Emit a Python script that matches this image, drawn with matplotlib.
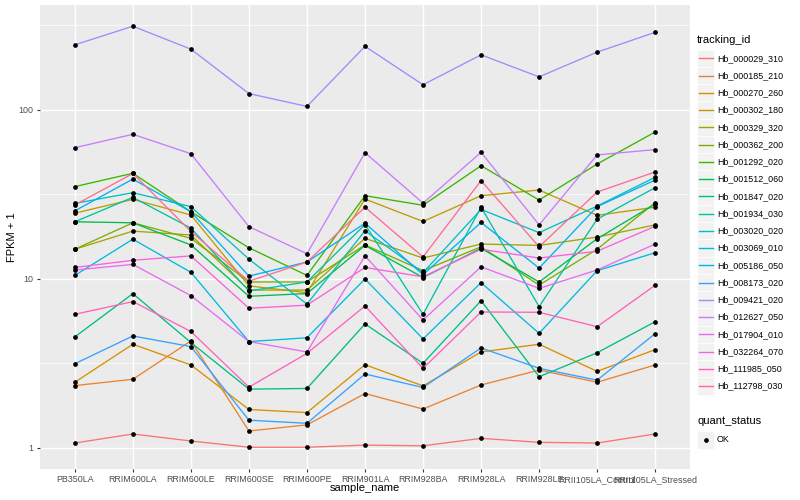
import numpy as np
import matplotlib
matplotlib.use('Agg')
import matplotlib.pyplot as plt
from matplotlib.patches import Rectangle
from matplotlib.lines import Line2D

plt.rcParams['font.family'] = ['Liberation Sans', 'DejaVu Sans']

samples = ['PB350LA', 'RRIM600LA', 'RRIM600LE', 'RRIM600SE', 'RRIM600PE', 'RRIM901LA',
           'RRIM928BA', 'RRIM928LA', 'RRIM928LE', 'RRII105LA_Control', 'RRII105LA_Stressed']

tracking_ids = ['Hb_000029_310', 'Hb_000185_210', 'Hb_000270_260', 'Hb_000302_180',
                'Hb_000329_320', 'Hb_000362_200', 'Hb_001292_020', 'Hb_001512_060',
                'Hb_001847_020', 'Hb_001934_030', 'Hb_003020_020', 'Hb_003069_010',
                'Hb_005186_050', 'Hb_008173_020', 'Hb_009421_020', 'Hb_012627_050',
                'Hb_017904_010', 'Hb_032264_070', 'Hb_111985_050', 'Hb_112798_030']

# FPKM + 1 per sample
hb_000029_310 = [1.07, 1.21, 1.10, 1.01, 1.01, 1.04, 1.03, 1.14, 1.08, 1.07, 1.21]
hb_000185_210 = [2.34, 2.55, 4.30, 1.26, 1.37, 2.10, 1.70, 2.36, 2.89, 2.45, 3.10]
hb_000270_260 = [2.45, 4.11, 3.10, 1.69, 1.62, 3.11, 2.33, 3.70, 4.11, 2.84, 3.82]
hb_000302_180 = [24.5, 29.6, 23.9, 9.1, 8.3, 29.7, 21.9, 31.1, 33.6, 23.8, 26.6]
hb_000329_320 = [15.0, 19.2, 18.2, 8.6, 8.6, 17.4, 13.3, 16.1, 15.8, 17.7, 20.9]
hb_000362_200 = [15.0, 21.5, 17.4, 9.6, 9.6, 15.9, 11.2, 15.5, 9.2, 15.0, 28.3]
hb_001292_020 = [35.2, 42.2, 25.0, 15.3, 10.5, 31.1, 27.3, 46.8, 29.3, 47.9, 74.1]
hb_001512_060 = [21.8, 21.5, 15.9, 7.9, 8.2, 15.8, 10.2, 15.2, 9.6, 17.3, 27.8]
hb_001847_020 = [4.54, 8.19, 4.21, 2.23, 2.25, 5.42, 3.17, 7.44, 2.64, 3.66, 5.59]
hb_001934_030 = [21.8, 30.4, 20.0, 8.5, 9.6, 21.0, 6.18, 26.6, 6.86, 22.6, 34.7]
hb_003020_020 = [28.0, 32.4, 26.8, 13.1, 7.1, 19.3, 10.9, 25.8, 18.8, 27.0, 40.0]
hb_003069_010 = [10.5, 17.2, 10.95, 4.26, 4.49, 10.0, 4.42, 9.51, 4.77, 11.2, 14.3]
hb_005186_050 = [25.3, 39.0, 25.0, 10.4, 12.6, 21.4, 10.6, 21.6, 11.6, 26.8, 38.5]
hb_008173_020 = [3.15, 4.60, 3.98, 1.46, 1.40, 2.74, 2.28, 3.91, 2.96, 2.52, 4.75]
hb_009421_020 = [243, 313, 229, 125, 105, 238, 141, 212, 157, 220, 288]
hb_012627_050 = [59.8, 71.8, 55.1, 20.4, 14.1, 55.9, 28.1, 56.2, 20.9, 54.2, 58.3]
hb_017904_010 = [11.3, 12.2, 7.97, 4.26, 3.70, 13.7, 5.72, 11.8, 8.8, 11.3, 16.1]
hb_032264_070 = [11.7, 12.9, 13.7, 6.71, 7.0, 11.7, 10.3, 15.0, 13.3, 14.6, 20.5]
hb_111985_050 = [6.18, 7.35, 4.89, 2.29, 3.63, 6.92, 2.96, 6.38, 6.35, 5.22, 9.18]
hb_112798_030 = [27.4, 42.1, 19.1, 9.7, 12.6, 26.6, 13.5, 38.2, 15.5, 32.7, 43.0]

series = [hb_000029_310, hb_000185_210, hb_000270_260, hb_000302_180, hb_000329_320,
          hb_000362_200, hb_001292_020, hb_001512_060, hb_001847_020, hb_001934_030,
          hb_003020_020, hb_003069_010, hb_005186_050, hb_008173_020, hb_009421_020,
          hb_012627_050, hb_017904_010, hb_032264_070, hb_111985_050, hb_112798_030]

# ggplot hue palette, 20 levels
colours = ['#F8766D', '#EA8331', '#D89000', '#C09B00', '#A3A500', '#7CAE00', '#39B600',
           '#00BB4E', '#00BF7D', '#00C1A3', '#00BFC4', '#00BAE0', '#00B0F6', '#35A2FF',
           '#9590FF', '#C77CFF', '#E76BF3', '#FA62DB', '#FF62BC', '#FF6C91']

W, H = 800, 500
fig = plt.figure(figsize=(W / 100, H / 100), dpi=100)
ax = fig.add_axes([40 / W, 1 - 469 / H, 650 / W, 464 / H])
ax.set_facecolor('#EBEBEB')

x = np.arange(len(samples))
ax.set_yscale('log')
ax.set_xlim(-0.6, len(samples) - 0.4)
ax.set_ylim(0.751, 418)

# grid
for m in [10 ** 0.5, 10 ** 1.5, 10 ** 2.5]:
    ax.axhline(m, color='white', lw=0.5, zorder=1)
for m in [1, 10, 100]:
    ax.axhline(m, color='white', lw=1.0, zorder=1)
for xi in x:
    ax.axvline(xi, color='white', lw=1.0, zorder=1)

for vals, col in zip(series, colours):
    ax.plot(x, vals, color=col, lw=0.95, zorder=3)
for vals in series:
    ax.plot(x, vals, 'o', color='black', ms=2.4, zorder=4)

for s in ax.spines.values():
    s.set_visible(False)
ax.set_xticks(x)
ax.set_xticklabels(samples)
ax.set_yticks([1, 10, 100])
ax.set_yticklabels(['1', '10', '100'])
ax.minorticks_off()
ax.tick_params(axis='both', length=2.5, width=0.8, color='#333333',
               labelcolor='#4D4D4D', labelsize=6.4, pad=2)

fig.text(365 / W, 1 - 488 / H, 'sample_name', ha='center', va='center', fontsize=8)
fig.text(12 / W, 1 - 237 / H, 'FPKM + 1', ha='center', va='center', fontsize=8,
         rotation=90)

# legend: tracking_id
fig.text(697 / W, 1 - 40 / H, 'tracking_id', ha='left', va='center', fontsize=8)
y0, dy = 58.3, 17.25
for i, (tid, col) in enumerate(zip(tracking_ids, colours)):
    yc = y0 + i * dy
    fig.add_artist(Rectangle((697 / W, 1 - (yc + 8.6) / H), 17.2 / W, 17.2 / H,
                             transform=fig.transFigure, facecolor='#F2F2F2',
                             edgecolor='white', lw=0.5))
    fig.add_artist(Line2D([699 / W, 712.5 / W], [1 - yc / H, 1 - yc / H],
                          transform=fig.transFigure, color=col, lw=1.0))
    fig.text(717 / W, 1 - yc / H, tid, ha='left', va='center', fontsize=6.4)

# legend: quant_status
fig.text(697 / W, 1 - 421 / H, 'quant_status', ha='left', va='center', fontsize=8)
fig.add_artist(Rectangle((697 / W, 1 - (440 + 8.6) / H), 17.2 / W, 17.2 / H,
                         transform=fig.transFigure, facecolor='#F2F2F2',
                         edgecolor='white', lw=0.5))
fig.add_artist(Line2D([705.6 / W], [1 - 440 / H], transform=fig.transFigure,
                      marker='o', color='black', ms=2.4, linestyle='none'))
fig.text(717 / W, 1 - 440 / H, 'OK', ha='left', va='center', fontsize=6.4)

fig.savefig('out.png', dpi=100)
